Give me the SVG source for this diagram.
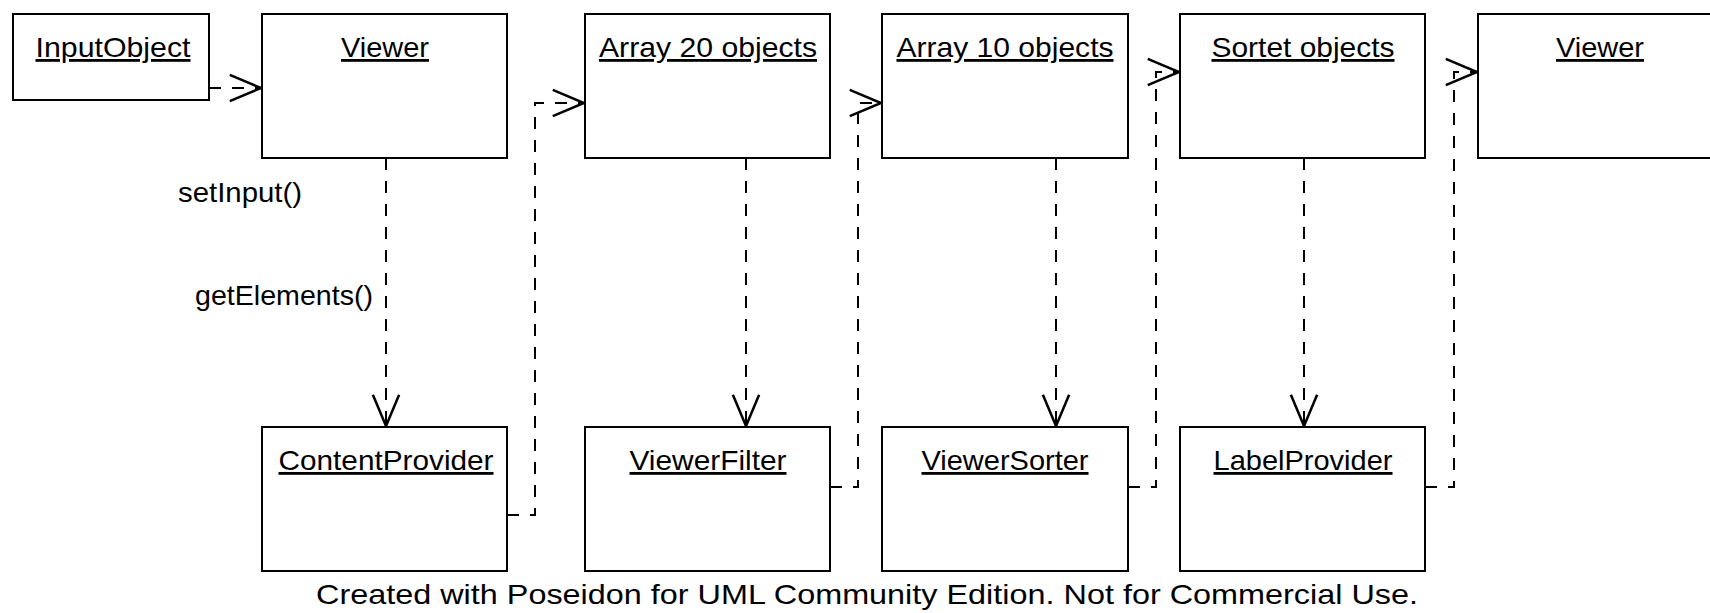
<svg xmlns="http://www.w3.org/2000/svg" width="1710" height="613" viewBox="0 0 1710 613">
<style>
text{font-family:"Liberation Sans",Arial,sans-serif;font-size:28px;fill:#000}
.t{text-anchor:middle;text-decoration:underline}
.box{fill:#fff;stroke:#000;stroke-width:2}
.c{fill:none;stroke:#000;stroke-width:2;stroke-dasharray:12 11}
</style>
<defs>
<marker id="arr" markerUnits="userSpaceOnUse" orient="auto" markerWidth="40" markerHeight="40" refX="0" refY="0" viewBox="-30 -15 32 30" overflow="visible">
<path d="M-25,-10.5 L0,0 L-25,10.5" fill="none" stroke="#000" stroke-width="2" stroke-dasharray="none"/>
</marker>
</defs>
<rect width="1710" height="613" fill="#fff"/>
<g id="connectors">
<path class="c" d="M209,88 H261" marker-end="url(#arr)"/>
<path class="c" d="M386,158 V426" marker-end="url(#arr)"/>
<path class="c" d="M507,515 H535 V103 H584" marker-end="url(#arr)"/>
<path class="c" d="M746,158 V426" marker-end="url(#arr)"/>
<path class="c" d="M830,487 H858 V103 H881" marker-end="url(#arr)"/>
<path class="c" d="M1056,158 V426" marker-end="url(#arr)"/>
<path class="c" d="M1128,487 H1156 V72 H1179" marker-end="url(#arr)"/>
<path class="c" d="M1304,158 V426" marker-end="url(#arr)"/>
<path class="c" d="M1425,487 H1454 V72 H1477" marker-end="url(#arr)"/>
</g>
<g id="labels">
<text x="178" y="202" textLength="124" lengthAdjust="spacingAndGlyphs">setInput()</text>
<text x="195" y="305" textLength="178" lengthAdjust="spacingAndGlyphs">getElements()</text>
</g>
<g id="InputObject"><rect class="box" x="13" y="14" width="196" height="86"/><text class="t" x="113" y="57" textLength="155" lengthAdjust="spacingAndGlyphs">InputObject</text></g>
<g id="Viewer1"><rect class="box" x="262" y="14" width="245" height="144"/><text class="t" x="385" y="57" textLength="88" lengthAdjust="spacingAndGlyphs">Viewer</text></g>
<g id="Array20"><rect class="box" x="585" y="14" width="245" height="144"/><text class="t" x="708" y="57" textLength="218" lengthAdjust="spacingAndGlyphs">Array 20 objects</text></g>
<g id="Array10"><rect class="box" x="882" y="14" width="246" height="144"/><text class="t" x="1005" y="57" textLength="217" lengthAdjust="spacingAndGlyphs">Array 10 objects</text></g>
<g id="Sortet"><rect class="box" x="1180" y="14" width="245" height="144"/><text class="t" x="1303" y="57" textLength="183" lengthAdjust="spacingAndGlyphs">Sortet objects</text></g>
<g id="Viewer2"><rect class="box" x="1478" y="14" width="245" height="144"/><text class="t" x="1600" y="57" textLength="88" lengthAdjust="spacingAndGlyphs">Viewer</text></g>
<g id="ContentProvider"><rect class="box" x="262" y="427" width="245" height="144"/><text class="t" x="386" y="470" textLength="215" lengthAdjust="spacingAndGlyphs">ContentProvider</text></g>
<g id="ViewerFilter"><rect class="box" x="585" y="427" width="245" height="144"/><text class="t" x="708" y="470" textLength="157" lengthAdjust="spacingAndGlyphs">ViewerFilter</text></g>
<g id="ViewerSorter"><rect class="box" x="882" y="427" width="246" height="144"/><text class="t" x="1005" y="470" textLength="167" lengthAdjust="spacingAndGlyphs">ViewerSorter</text></g>
<g id="LabelProvider"><rect class="box" x="1180" y="427" width="245" height="144"/><text class="t" x="1303" y="470" textLength="179" lengthAdjust="spacingAndGlyphs">LabelProvider</text></g>
<g id="footer"><text x="867" y="604" text-anchor="middle" textLength="1102" lengthAdjust="spacingAndGlyphs">Created with Poseidon for UML Community Edition. Not for Commercial Use.</text></g>
</svg>
